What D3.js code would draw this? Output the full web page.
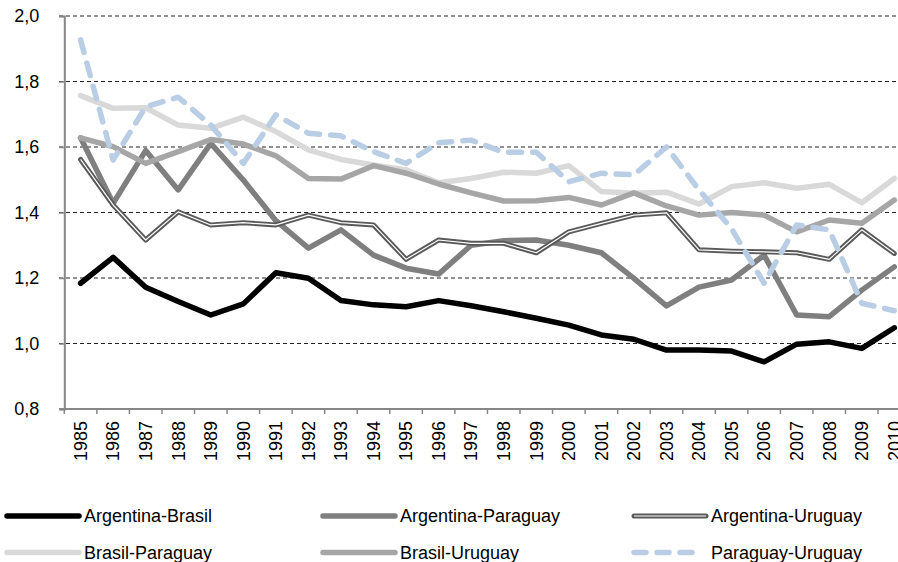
<!DOCTYPE html>
<html>
<head>
<meta charset="utf-8">
<script src="https://cdnjs.cloudflare.com/ajax/libs/d3/7.9.0/d3.min.js"></script>
<style>
  html, body { margin: 0; padding: 0; background: #fff; }
  svg { display: block; font-family: Arial, "Liberation Sans", sans-serif; }
</style>
</head>
<body>
<div id="grafico"></div>
<script>
// Anos (eixo X)
const ANOS = d3.range(1985, 2011).map(String);

// Séries
const ARGENTINA_BRASIL = [1.184, 1.263, 1.172, 1.128, 1.087, 1.121, 1.216, 1.199, 1.131, 1.118, 1.112, 1.131, 1.115,
  1.097, 1.077, 1.056, 1.026, 1.013, 0.980, 0.980, 0.977, 0.944, 0.998, 1.005, 0.985, 1.048];
const ARGENTINA_PARAGUAY = [1.628, 1.428, 1.589, 1.469, 1.611, 1.499, 1.375, 1.291, 1.347, 1.270, 1.230, 1.212, 1.300,
  1.314, 1.316, 1.300, 1.277, 1.199, 1.115, 1.172, 1.194, 1.270, 1.087, 1.082, 1.163, 1.234];
const ARGENTINA_URUGUAY = [1.562, 1.423, 1.316, 1.402, 1.362, 1.369, 1.362, 1.392, 1.369, 1.362, 1.257, 1.316, 1.306,
  1.306, 1.277, 1.341, 1.367, 1.392, 1.399, 1.286, 1.282, 1.280, 1.277, 1.257, 1.347, 1.275];
const BRASIL_PARAGUAY = [1.757, 1.718, 1.720, 1.667, 1.657, 1.691, 1.647, 1.591, 1.562, 1.545, 1.530, 1.491, 1.504,
  1.523, 1.520, 1.543, 1.464, 1.459, 1.462, 1.426, 1.479, 1.491, 1.474, 1.486, 1.430, 1.504];
const BRASIL_URUGUAY = [1.628, 1.601, 1.550, 1.586, 1.623, 1.609, 1.573, 1.504, 1.502, 1.543, 1.520, 1.487, 1.460,
  1.435, 1.436, 1.446, 1.423, 1.460, 1.420, 1.392, 1.400, 1.392, 1.341, 1.377, 1.367, 1.438];
const PARAGUAY_URUGUAY = [1.927, 1.560, 1.723, 1.752, 1.667, 1.550, 1.698, 1.642, 1.634, 1.586, 1.550, 1.613, 1.621,
  1.584, 1.584, 1.494, 1.520, 1.515, 1.600, 1.469, 1.350, 1.184, 1.362, 1.347, 1.123, 1.100];

// Ticks do eixo Y
const TICKS_Y = [0.8, 1.0, 1.2, 1.4, 1.6, 1.8, 2.0];

// Estilo de cada série (ordem = ordem de desenho e da legenda)
const SERIES = [
  { nome: "Argentina-Brasil",   valores: ARGENTINA_BRASIL,   cor: "#000000", larg: 5.5 },
  { nome: "Argentina-Paraguay", valores: ARGENTINA_PARAGUAY, cor: "#7f7f7f", larg: 5.5 },
  { nome: "Argentina-Uruguay",  valores: ARGENTINA_URUGUAY,  cor: "#595959", larg: 5, duplo: true },
  { nome: "Brasil-Paraguay",    valores: BRASIL_PARAGUAY,    cor: "#d9d9d9", larg: 5.5 },
  { nome: "Brasil-Uruguay",     valores: BRASIL_URUGUAY,     cor: "#a6a6a6", larg: 5.5 },
  { nome: "Paraguay-Uruguay",   valores: PARAGUAY_URUGUAY,   cor: "#b9cde5", larg: 5.5, tracejado: "13,11" },
];

const W = 898, H = 562;
const COR_EIXO = "#878787";

const svg = d3.select("#grafico").append("svg")
  .attr("width", W)
  .attr("height", H);

// escalas (a área do gráfico passa um pouco da borda direita, como no original)
const x = d3.scaleBand().domain(ANOS).range([64.3, 910.6]);
const y = d3.scaleLinear().domain([0.8, 2.0]).range([409, 16]);

// --- linhas de grade tracejadas ---
svg.append("g")
  .selectAll("line")
  .data(TICKS_Y.filter(t => t > 0.8))
  .join("line")
  .attr("x1", 59)
  .attr("x2", W)
  .attr("y1", d => y(d))
  .attr("y2", d => y(d))
  .attr("stroke", "#222")
  .attr("stroke-width", 1)
  .attr("stroke-dasharray", "4,3");

// --- eixo Y ---
const eixoY = svg.append("g")
  .attr("transform", "translate(64.3,0)")
  .call(d3.axisLeft(y)
    .tickValues(TICKS_Y)
    .tickFormat(d => d.toFixed(1).replace(".", ","))
    .tickSize(5)
    .tickPadding(20));
eixoY.select(".domain").attr("stroke", COR_EIXO).attr("stroke-width", 2);
eixoY.selectAll(".tick line").attr("stroke", COR_EIXO).attr("stroke-width", 1.5);
eixoY.selectAll(".tick text")
  .attr("font-size", 18)
  .attr("fill", "#000")
  .attr("font-family", "Arial, 'Liberation Sans', sans-serif");

// --- eixo X (rótulos girados, marcas entre categorias) ---
const eixoX = svg.append("g")
  .attr("transform", `translate(0,${y(0.8)})`)
  .call(d3.axisBottom(x).tickSize(0).tickPadding(0));
eixoX.select(".domain").remove();
eixoX.selectAll(".tick text")
  .attr("transform", "rotate(-90)")
  .attr("text-anchor", "end")
  .attr("x", -12)
  .attr("y", 0)
  .attr("dy", "0.35em")
  .attr("font-size", 18)
  .attr("fill", "#000")
  .attr("font-family", "Arial, 'Liberation Sans', sans-serif");

// linha do eixo X e marcas nas bordas das categorias
const bordas = ANOS.map(a => x(a)).concat([x.range()[1]]);
svg.append("line")
  .attr("x1", 59).attr("x2", W)
  .attr("y1", y(0.8)).attr("y2", y(0.8))
  .attr("stroke", COR_EIXO).attr("stroke-width", 2);
svg.append("g")
  .selectAll("line")
  .data(bordas)
  .join("line")
  .attr("x1", d => d).attr("x2", d => d)
  .attr("y1", y(0.8)).attr("y2", y(0.8) + 5)
  .attr("stroke", COR_EIXO).attr("stroke-width", 1.5);

// --- séries ---
const linha = d3.line()
  .x((d, i) => x(ANOS[i]) + x.bandwidth() / 2)
  .y(d => y(d));

const gSeries = svg.append("g").attr("id", "g-series");
SERIES.forEach(s => {
  gSeries.append("path")
    .datum(s.valores)
    .attr("d", linha)
    .attr("fill", "none")
    .attr("stroke", s.cor)
    .attr("stroke-width", s.larg)
    .attr("stroke-linejoin", "round")
    .attr("stroke-linecap", "round")
    .attr("stroke-dasharray", s.tracejado || null);
  if (s.duplo) {
    // linha dupla: miolo branco fino
    gSeries.append("path")
      .datum(s.valores)
      .attr("d", linha)
      .attr("fill", "none")
      .attr("stroke", "#ffffff")
      .attr("stroke-width", 1.2)
      .attr("stroke-linejoin", "round");
  }
});

// --- legenda (2 linhas x 3 colunas) ---
const COL_X = [7, 323, 634];
const LIN_Y = [516, 552.5];
const gLeg = svg.append("g").attr("id", "legenda");
SERIES.forEach((s, i) => {
  const cx = COL_X[i % 3];
  const cy = LIN_Y[Math.floor(i / 3)];
  const comp = s.tracejado ? 63 : 72;
  gLeg.append("line")
    .attr("x1", cx).attr("x2", cx + comp)
    .attr("y1", cy).attr("y2", cy)
    .attr("stroke", s.cor)
    .attr("stroke-width", s.larg)
    .attr("stroke-linecap", "round")
    .attr("stroke-dasharray", s.tracejado ? "12,11" : null);
  if (s.duplo) {
    gLeg.append("line")
      .attr("x1", cx).attr("x2", cx + comp)
      .attr("y1", cy).attr("y2", cy)
      .attr("stroke", "#fff")
      .attr("stroke-width", 1.2);
  }
  gLeg.append("text")
    .attr("x", cx + 77)
    .attr("y", cy)
    .attr("dy", "0.36em")
    .attr("font-size", 18)
    .attr("fill", "#000")
    .text(s.nome);
});
</script>
</body>
</html>
